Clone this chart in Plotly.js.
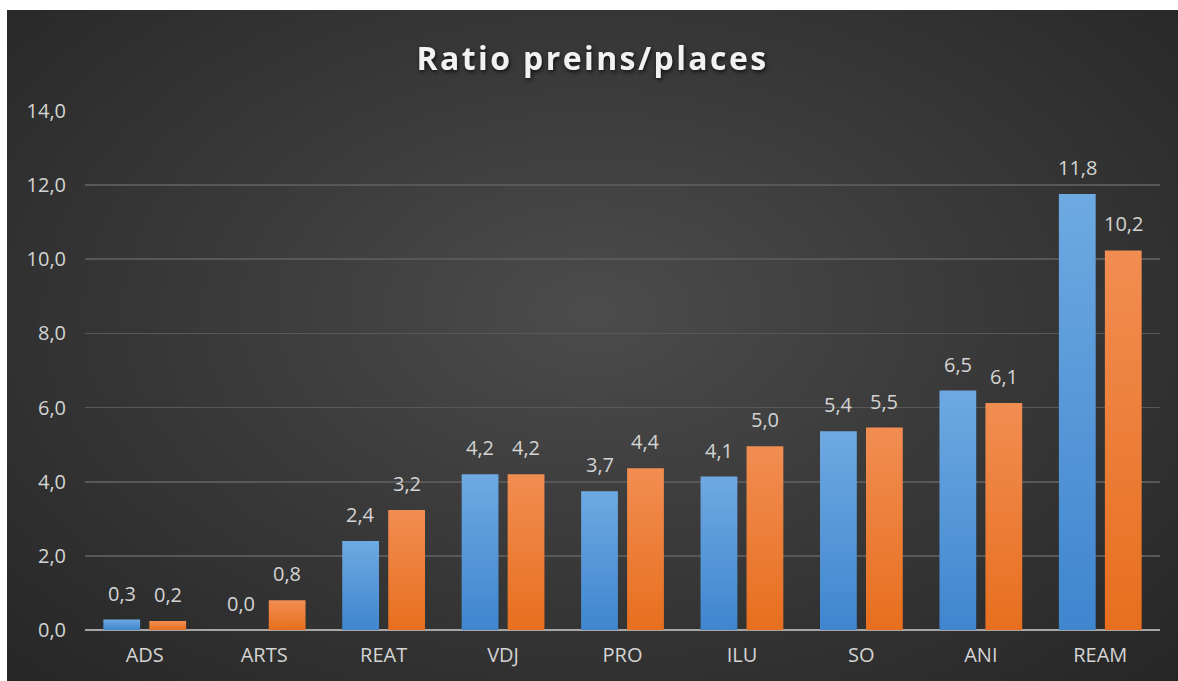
<!DOCTYPE html>
<html>
<head>
<meta charset="utf-8">
<script src="https://cdn.plot.ly/plotly-3.0.1.min.js"></script>
<style>
  html, body { margin: 0; padding: 0; background: #ffffff; width: 1178px; height: 681px; overflow: hidden; }
  #chart {
    position: absolute; left: 7px; top: 10px; width: 1171px; height: 671px;
    background: radial-gradient(ellipse at 50% 45%, #4c4c4c 0%, #3a3a3a 45%, #262626 100%);
  }
  #chart .gtitle { letter-spacing: 2.4px; filter: drop-shadow(1px 2px 2px rgba(0,0,0,0.7)); }
</style>
</head>
<body>
<div id="chart"></div>
<script>
const categories = ["ADS", "ARTS", "REAT", "VDJ", "PRO", "ILU", "SO", "ANI", "REAM"];
const seriesBlue = [0.28, 0.0, 2.40, 4.20, 3.74, 4.14, 5.36, 6.46, 11.76];
const seriesOrange = [0.24, 0.80, 3.24, 4.20, 4.36, 4.96, 5.46, 6.12, 10.24];
const yTicks = [0, 2, 4, 6, 8, 10, 12, 14];

const labelFont = { family: "Open Sans, sans-serif", size: 20, color: "#d4d4d4" };

function fmt(v) { return v.toFixed(1).replace(".", ","); }

const traces = [
  { type: "bar", x: categories, y: seriesBlue, name: "blue", marker: { color: "#5a9ad9" } },
  { type: "bar", x: categories, y: seriesOrange, name: "orange", marker: { color: "#ee7b34" } }
];

const annotations = [];
[[seriesBlue, -23], [seriesOrange, 23]].forEach(([vals, shift]) => {
  vals.forEach((v, i) => {
    annotations.push({
      x: categories[i], y: v, xref: "x", yref: "y",
      text: fmt(v), showarrow: false,
      xanchor: "center", yanchor: "bottom",
      xshift: shift, yshift: 11,
      font: labelFont
    });
  });
});

const layout = {
  width: 1171, height: 671,
  paper_bgcolor: "rgba(0,0,0,0)", plot_bgcolor: "rgba(0,0,0,0)",
  separators: ", ",
  showlegend: false,
  barmode: "group", bargap: 0.23, bargroupgap: 0.2,
  margin: { l: 78, r: 18, t: 101, b: 51 },
  title: {
    text: "<b>Ratio preins/places</b>",
    font: { family: "Open Sans, sans-serif", size: 32, color: "#f2f2f2" },
    x: 0.5, xanchor: "center", y: 0.927, yanchor: "middle"
  },
  xaxis: {
    type: "category",
    tickfont: labelFont,
    showgrid: false, zeroline: false,
    showline: false, ticks: "", ticklabelstandoff: 11
  },
  yaxis: {
    range: [0, 14], tickvals: yTicks, tickformat: ".1f",
    tickfont: labelFont,
    gridcolor: "#585858", gridwidth: 1.6,
    zeroline: true, zerolinecolor: "#a6a6a6", zerolinewidth: 2,
    showline: false, ticks: "", ticklabelstandoff: 18
  },
  annotations: annotations
};

Plotly.newPlot("chart", traces, layout, { displayModeBar: false, staticPlot: true }).then(function (gd) {
  // soft vertical gradient on each bar, as in the original Office style
  const svg = gd.querySelector(".main-svg");
  const NS = "http://www.w3.org/2000/svg";
  const defs = document.createElementNS(NS, "defs");
  function grad(id, top, bottom) {
    const g = document.createElementNS(NS, "linearGradient");
    g.setAttribute("id", id);
    g.setAttribute("x1", "0"); g.setAttribute("y1", "0");
    g.setAttribute("x2", "0"); g.setAttribute("y2", "1");
    [[0, top], [1, bottom]].forEach(([o, c]) => {
      const s = document.createElementNS(NS, "stop");
      s.setAttribute("offset", o); s.setAttribute("stop-color", c);
      g.appendChild(s);
    });
    defs.appendChild(g);
  }
  grad("gBlue", "#6ea9e2", "#3f86cf");
  grad("gOrange", "#f28d52", "#e76f1e");
  svg.insertBefore(defs, svg.firstChild);
  const traceGroups = gd.querySelectorAll(".barlayer .trace");
  traceGroups.forEach((tg, k) => {
    tg.querySelectorAll("path").forEach(p => {
      p.style.fill = k === 0 ? "url(#gBlue)" : "url(#gOrange)";
    });
  });
});
</script>
</body>
</html>
